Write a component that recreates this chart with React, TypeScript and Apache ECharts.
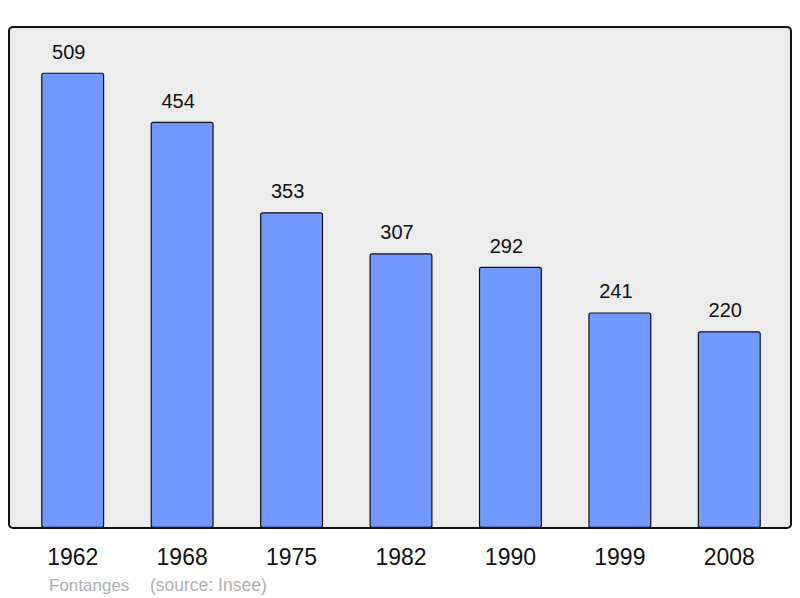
import React, { useEffect, useRef } from "react";
import * as echarts from "echarts";

const years = ["1962", "1968", "1975", "1982", "1990", "1999", "2008"];
const population = [509, 454, 353, 307, 292, 241, 220];
const footerTitle = "Fontanges";
const footerSource = "(source: Insee)";

export default function App() {
  const ref = useRef<HTMLDivElement>(null);
  useEffect(() => {
    document.body.style.margin = "0";
    const chart = echarts.init(ref.current!, null, { renderer: "svg" });
    const font = "Liberation Sans, Arial, sans-serif";
    chart.setOption({
      animation: false,
      backgroundColor: "#ffffff",
      textStyle: { fontFamily: font },
      graphic: [
        {
          type: "rect",
          z: -10,
          shape: { x: 9, y: 27, width: 782, height: 501, r: 4 },
          style: { fill: "#ececec", stroke: "#111111", lineWidth: 2 },
        },
        {
          type: "text",
          x: 49,
          y: 585,
          style: {
            text: footerTitle,
            fill: "#b0b0b0",
            fontSize: 17,
            fontFamily: font,
            verticalAlign: "middle",
          },
        },
        {
          type: "text",
          x: 150,
          y: 585,
          style: {
            text: footerSource,
            fill: "#b0b0b0",
            fontSize: 17.5,
            fontFamily: font,
            verticalAlign: "middle",
          },
        },
      ],
      grid: { left: 18, top: 27, width: 766, height: 501, containLabel: false },
      xAxis: {
        type: "category",
        data: years,
        axisLine: { show: false },
        axisTick: { show: false },
        axisLabel: { color: "#111", fontSize: 23, margin: 17 },
      },
      yAxis: {
        type: "value",
        min: 0,
        max: 560,
        show: false,
        splitLine: { show: false },
      },
      series: [
        {
          type: "bar",
          data: population,
          barWidth: 63,
          itemStyle: {
            color: "#7098ff",
            borderColor: "#111111",
            borderWidth: 1.2,
            borderRadius: 2,
          },
          label: {
            show: true,
            position: "top",
            distance: 11,
            offset: [-4, 0],
            color: "#111",
            fontSize: 20,
          },
        },
      ],
    });
    return () => chart.dispose();
  }, []);
  return <div ref={ref} style={{ width: 800, height: 598 }} />;
}
